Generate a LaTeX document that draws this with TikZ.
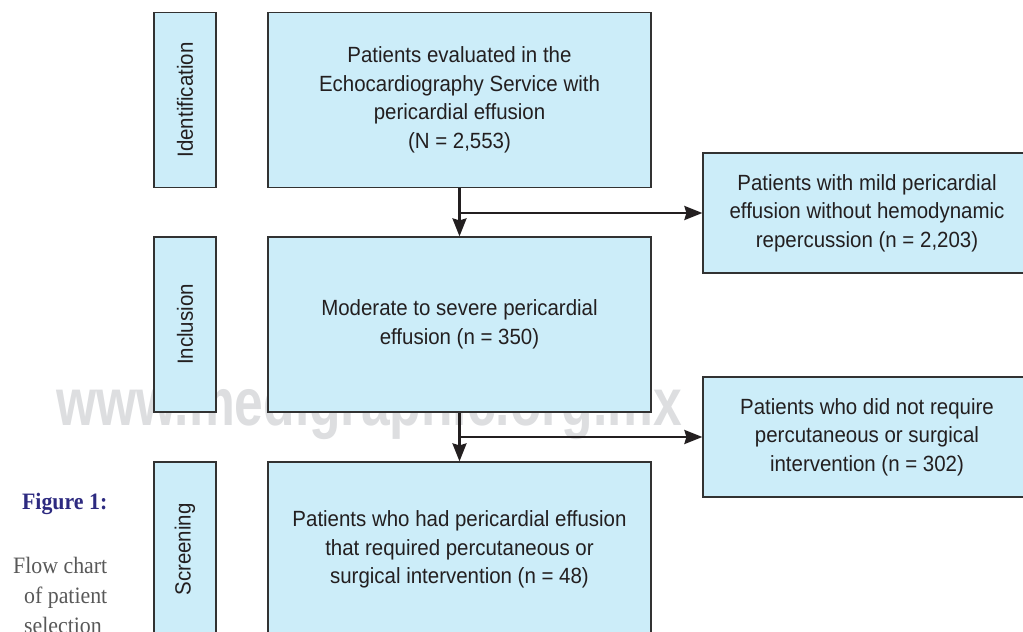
\documentclass[tikz,border=0pt]{standalone}
\usepackage{fontspec}
\setmainfont{Liberation Sans}[FakeStretch=0.93]
\newfontfamily\wmfont{Liberation Sans}[FakeStretch=0.77]
\newfontfamily\capfont{Liberation Serif}[FakeStretch=0.93]
\usetikzlibrary{arrows.meta}
\definecolor{boxfill}{RGB}{204,237,249}
\definecolor{boxline}{RGB}{50,50,50}
\definecolor{txt}{RGB}{35,31,32}
\definecolor{wmgray}{RGB}{221,222,224}
\definecolor{capblue}{RGB}{45,42,128}
\definecolor{capgray}{RGB}{88,88,88}
\tikzset{
  box/.style={draw=boxline, line width=1.2pt, fill=boxfill, text=txt, align=center,
    inner sep=0pt, font=\fontsize{22}{28.5}\selectfont},
  labbox/.style={box, minimum width=62pt, minimum height=175pt},
  mainbox/.style={box, minimum width=383pt, minimum height=175pt},
  sidebox/.style={box, minimum width=328pt, minimum height=120pt},
  arr/.style={draw=txt, line width=2.5pt, -{Stealth[length=18pt,width=14pt,inset=2pt]}},
  captxt/.style={text=capgray, inner sep=0pt, anchor=base east, font=\capfont\fontsize{23.5}{30}\selectfont}
}
\begin{document}
\begin{tikzpicture}[x=1pt,y=-1pt]
\useasboundingbox (0,0) rectangle (1023,632);
\clip (0,0) rectangle (1023,632);
% watermark
\node[anchor=base west, inner sep=0pt, text=wmgray, font=\wmfont\bfseries\fontsize{67}{67}\selectfont] (wm) at (56,425) {www.medigraphic.org.mx};
% caption
\node[anchor=base east, inner sep=0pt, text=capblue, font=\capfont\bfseries\fontsize{23.5}{28}\selectfont] (fig) at (107.5,509) {Figure 1:};
\node[captxt] (cap1) at (107.5,573) {Flow chart};
\node[captxt] (cap2) at (107.5,603) {of patient};
\node[captxt] (cap3) at (107.5,633) {selection\phantom{.}};
% stage labels
\node[labbox] (lab1) at (185,100) {\rotatebox{90}{Identification}};
\node[labbox] (lab2) at (185,324.5) {\rotatebox{90}{Inclusion}};
\node[labbox] (lab3) at (185,549.5) {\rotatebox{90}{Screening}};
% main boxes
\node[mainbox] (main1) at (459.5,100) {Patients evaluated in the\\Echocardiography Service with\\pericardial effusion\\(N = 2,553)};
\node[mainbox] (main2) at (459.5,324.5) {Moderate to severe pericardial\\effusion (n = 350)};
\node[mainbox] (main3) at (459.5,549.5) {Patients who had pericardial effusion\\that required percutaneous or\\surgical intervention (n = 48)};
% side boxes
\node[sidebox] (side1) at (867,213) {Patients with mild pericardial\\effusion without hemodynamic\\repercussion (n = 2,203)};
\node[sidebox] (side2) at (867,437) {Patients who did not require\\percutaneous or surgical\\intervention (n = 302)};
% connectors
\draw[arr] (main1.south) -- (main2.north);
\draw[arr] (main1.south |- side1.west) -- (side1.west);
\draw[arr] (main2.south) -- (main3.north);
\draw[arr] (main2.south |- side2.west) -- (side2.west);
\end{tikzpicture}
\end{document}
